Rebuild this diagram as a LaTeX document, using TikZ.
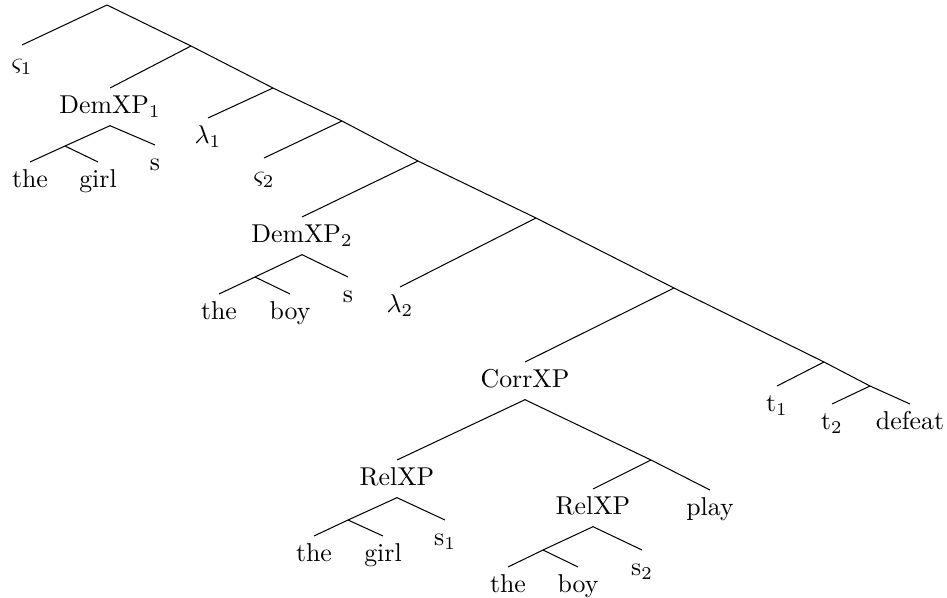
\documentclass[tikz,border=0pt]{standalone}
\usepackage{amssymb}
\usepackage{amsmath}
\usepackage{tikz}

\begin{document}
\begin{tikzpicture}[x=0.3876pt,y=-0.3876pt,
    lab/.style={anchor=north,text height=1.5ex,text depth=.25ex}]
      \useasboundingbox (0,0) rectangle (947,598);

      % spine of the tree
      \coordinate (root) at (107,5);
      \coordinate (a1) at (191,46);
      \coordinate (a2) at (273,88);
      \coordinate (a3) at (342,121);
      \coordinate (a4) at (418,161);
      \coordinate (a5) at (536,218);
      \coordinate (a6) at (674,288);
      \coordinate (a7) at (824,362);
      \coordinate (a8) at (870,386);

      \node[lab] (sig1) at (22,45) {$\varsigma_1$};
      \node[lab] (dem1) at (110,88) {DemXP$_1$};
      \node[lab] (lam1) at (208,118) {$\lambda_1$};
      \node[lab] (sig2) at (264,158) {$\varsigma_2$};
      \node[lab] (dem2) at (302,217) {DemXP$_2$};
      \node[lab] (lam2) at (400,287) {$\lambda_2$};
      \node[lab] (corr) at (525,362) {CorrXP};
      \node[lab] (t1) at (777,386) {t$_1$};
      \node[lab] (t2) at (832,404) {t$_2$};
      \node[lab] (defeat) at (910,404) {defeat};

      \draw (root) -- (sig1.north);
      \draw (root) -- (a1) -- (a2) -- (a3) -- (a4) -- (a5) -- (a6) -- (a7) -- (a8) -- (defeat.north);
      \draw (a1) -- (dem1.north);
      \draw (a2) -- (lam1.north);
      \draw (a3) -- (sig2.north);
      \draw (a4) -- (dem2.north);
      \draw (a5) -- (lam2.north);
      \draw (a6) -- (corr.north);
      \draw (a7) -- (t1.north);
      \draw (a8) -- (t2.north);

      % the girl s
      \coordinate (b1) at (65,146);
      \node[lab] (the1) at (30,162) {the};
      \node[lab] (girl1) at (98,162) {girl};
      \node[lab] (s1) at (155,145) {s};
      \draw (dem1.south) -- (b1) -- (the1.north);
      \draw (b1) -- (girl1.north);
      \draw (dem1.south) -- (s1.north);

      % the boy s
      \coordinate (b2) at (255,277);
      \node[lab] (the2) at (219,294) {the};
      \node[lab] (boy2) at (290,294) {boy};
      \node[lab] (s2) at (348,277) {s};
      \draw (dem2.south) -- (b2) -- (the2.north);
      \draw (b2) -- (boy2.north);
      \draw (dem2.south) -- (s2.north);

      % correlative
      \coordinate (a9) at (651,460);
      \node[lab] (rel1) at (397,460) {RelXP};
      \node[lab] (rel2) at (593,489) {RelXP};
      \node[lab] (play) at (710,490) {play};
      \draw (corr.south) -- (rel1.north);
      \draw (corr.south) -- (a9) -- (play.north);
      \draw (a9) -- (rel2.north);

      \coordinate (b3) at (348,520);
      \node[lab] (the3) at (314,536) {the};
      \node[lab] (girl3) at (383,536) {girl};
      \node[lab] (rs1) at (445,520) {s$_1$};
      \draw (rel1.south) -- (b3) -- (the3.north);
      \draw (b3) -- (girl3.north);
      \draw (rel1.south) -- (rs1.north);

      \coordinate (b4) at (543,550);
      \node[lab] (the4) at (508,567) {the};
      \node[lab] (boy4) at (578,567) {boy};
      \node[lab] (rs2) at (642,550) {s$_2$};
      \draw (rel2.south) -- (b4) -- (the4.north);
      \draw (b4) -- (boy4.north);
      \draw (rel2.south) -- (rs2.north);
    \end{tikzpicture}
\end{document}
